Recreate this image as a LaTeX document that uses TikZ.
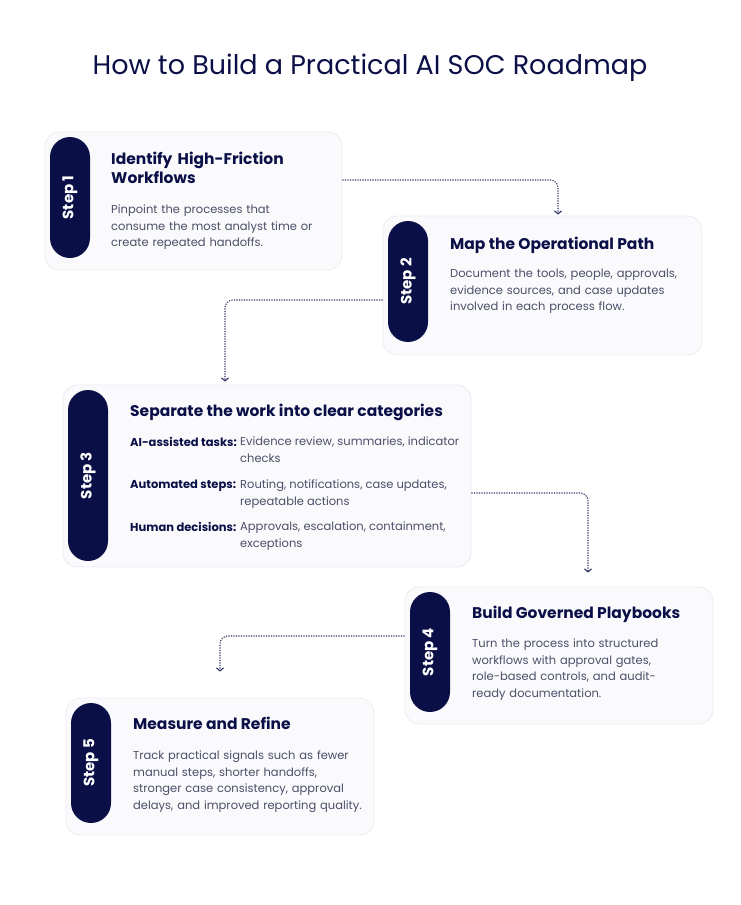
\documentclass[tikz,border=0pt]{standalone}
\usepackage{fontspec}
\setmainfont{Poppins}
\usetikzlibrary{positioning,arrows.meta}
\definecolor{navy}{HTML}{0B0F47}
\definecolor{bodygray}{HTML}{4B4F68}
\definecolor{boxfill}{HTML}{FAFAFC}
\definecolor{boxline}{HTML}{ECECF1}
\tikzset{
  box/.style={draw=boxline, fill=boxfill, rounded corners=14pt, line width=0.8pt},
  pill/.style={fill=navy, rounded corners=20pt, minimum height=40pt, text=white, font=\bfseries\fontsize{15}{15}\selectfont, rotate=90, inner sep=0pt},
  head/.style={anchor=north west, text=navy, font=\bfseries\fontsize{15.5}{19}\selectfont, align=left, inner sep=0pt},
  body/.style={anchor=north west, text=bodygray, font=\fontsize{11.5}{16.5}\selectfont, align=left, inner sep=0pt},
  lab/.style={anchor=north west, text=navy, font=\bfseries\fontsize{11.5}{16.5}\selectfont, inner sep=0pt},
  link/.style={draw=navy!85, dash pattern=on 1.2pt off 1.3pt, line width=1.1pt, rounded corners=8pt, -{Straight Barb[length=3pt,width=7pt]}}
}
\begin{document}
\begin{tikzpicture}[x=1pt,y=-1pt]
\useasboundingbox (0,0) rectangle (740,905);
\node[text=navy, font=\fontsize{27}{27}\selectfont] (title) at (370,68) {How to Build a Practical AI SOC Roadmap};

% Step 1
\node[box, minimum width=297pt, minimum height=138pt] (b1) at (193.5,201) {};
\node[pill, minimum width=121pt] (p1) at (70,197.5) {Step 1};
\node[head, text width=200pt] (h1) at (111,152) {Identify High-Friction\\Workflows};
\node[body, text width=210pt] (t1) at (111,205) {Pinpoint the processes that\\consume the most analyst time or\\create repeated handoffs.};

% Step 2
\node[box, minimum width=319pt, minimum height=139pt] (b2) at (542.5,285.5) {};
\node[pill, minimum width=121pt] (p2) at (408,281.5) {Step 2};
\node[head] (h2) at (450,237) {Map the Operational Path};
\node[body, text width=240pt] (t2) at (450,269) {Document the tools, people, approvals,\\evidence sources, and case updates\\involved in each process flow.};

% Step 3
\node[box, minimum width=408pt, minimum height=182pt] (b3) at (267,476) {};
\node[pill, minimum width=171pt] (p3) at (88,475.5) {Step 3};
\node[head] (h3) at (130,404) {Separate the work into clear categories};
\node[lab] (l31) at (130,437) {AI-assisted tasks:};
\node[body] (v31) at (240,437) {Evidence review, summaries, indicator\\checks};
\node[lab] (l32) at (130,480) {Automated steps:};
\node[body] (v32) at (240,480) {Routing, notifications, case updates,\\repeatable actions};
\node[lab] (l33) at (130,522) {Human decisions:};
\node[body] (v33) at (240,522) {Approvals, escalation, containment,\\exceptions};

% Step 4
\node[box, minimum width=308pt, minimum height=137pt] (b4) at (559,655.5) {};
\node[pill, minimum width=120pt] (p4) at (430,652) {Step 4};
\node[head] (h4) at (472,606) {Build Governed Playbooks};
\node[body, text width=220pt] (t4) at (472,639) {Turn the process into structured\\workflows with approval gates,\\role-based controls, and audit-\\ready documentation.};

% Step 5
\node[box, minimum width=308pt, minimum height=137pt] (b5) at (220,766.5) {};
\node[pill, minimum width=120pt] (p5) at (91,763) {Step 5};
\node[head] (h5) at (133,717) {Measure and Refine};
\node[body, text width=235pt] (t5) at (133,751) {Track practical signals such as fewer\\manual steps, shorter handoffs,\\stronger case consistency, approval\\delays, and improved reporting quality.};

% connectors
\draw[link] ([yshift=21pt]b1.east) -| ([xshift=15.5pt,yshift=1pt]b2.north);
\draw[link] ([yshift=-14.5pt]b2.west) -| ([xshift=-42pt,yshift=3pt]b3.north);
\draw[link] ([yshift=-17pt]b3.east) -| ([xshift=29pt,yshift=14pt]b4.north);
\draw[link] ([yshift=19.5pt]b4.west) -| ([yshift=26pt]b5.north);
\end{tikzpicture}
\end{document}
